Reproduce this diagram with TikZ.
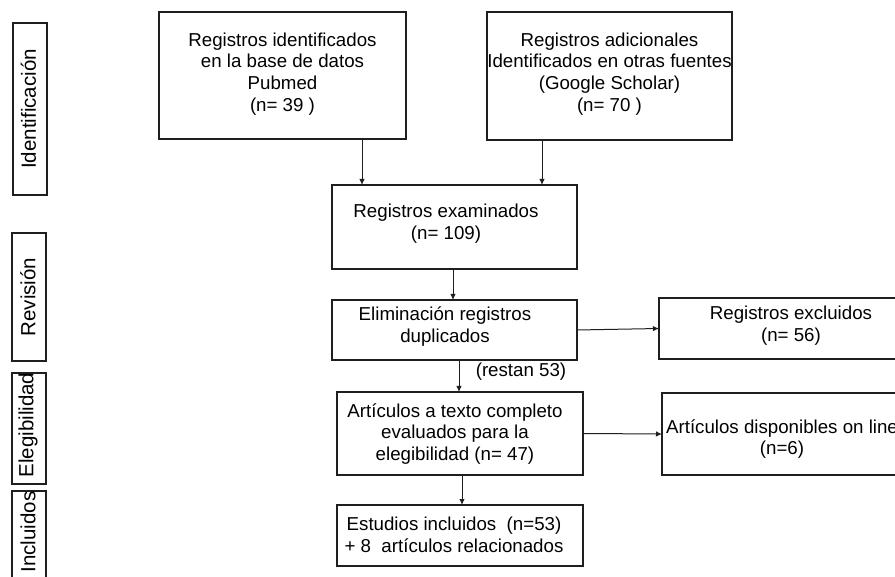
\documentclass[tikz,border=0pt]{standalone}
\usepackage{fontspec}
\setmainfont{Liberation Sans}
\usetikzlibrary{arrows.meta}
\begin{document}
\begin{tikzpicture}[x=1pt,y=-1pt,
  box/.style={draw=black!88, line width=1.1pt, inner sep=0pt, outer sep=0pt},
  txt/.style={align=center, font=\fontsize{18.7}{21.8}\selectfont, inner sep=0pt, text=black},
  lab/.style={rotate=90, font=\fontsize{20.5}{22}\selectfont, inner sep=0pt, text=black},
  arr/.style={-{Latex[length=6pt,width=5.5pt]}, line width=1pt, draw=black!88}]
\useasboundingbox (0,0) rectangle (895,577);
\clip (0,0) rectangle (895,577);
\fill[white] (0,0) rectangle (895,577);

% stage label boxes
\node[box, minimum width=34pt, minimum height=172pt] (l1) at (30,109) {};
\node[box, minimum width=34pt, minimum height=128pt] (l2) at (29,297) {};
\node[box, minimum width=34pt, minimum height=111pt] (l3) at (29,428.5) {};
\node[box, minimum width=34pt, minimum height=109pt] (l4) at (29,545.5) {};
\node[lab] (tl1) at (28.5,109) {Identificación};
\node[lab] (tl2) at (28,297) {Revisión};
\node[lab] (tl3) at (28,425) {Elegibilidad};
\node[lab] (tl4) at (28,532) {Incluidos};

% flow boxes
\node[box, minimum width=247pt, minimum height=127pt] (b1) at (282.5,75.5) {};
\node[box, minimum width=245pt, minimum height=128pt] (b2) at (609.5,76) {};
\node[box, minimum width=245pt, minimum height=84pt] (b3) at (454.5,227) {};
\node[box, minimum width=245pt, minimum height=60pt] (b4) at (454.5,330) {};
\node[box, minimum width=264pt, minimum height=61pt] (b5) at (791,328.5) {};
\node[box, minimum width=246pt, minimum height=83pt] (b6) at (460,433.5) {};
\node[box, minimum width=250pt, minimum height=82pt] (b7) at (787,434) {};
\node[box, minimum width=246pt, minimum height=61pt] (b8) at (460,535.5) {};

% texts
\node[txt] (t1) at (282.5,74) {Registros identificados\\en la base de datos\\Pubmed\\(n= 39 )};
\node[txt] (t2) at (609.5,74) {Registros adicionales\\Identificados en otras fuentes\\(Google Scholar)\\(n= 70 )};
\node[txt] (t3) at (446,224) {Registros examinados\\(n= 109)};
\node[txt] (t4) at (445,326.5) {Eliminación registros\\duplicados};
\node[txt] (t5) at (791,326) {Registros excluidos\\(n= 56)};
\node[txt] (t6) at (455,434) {Artículos a texto completo\\evaluados para la\\elegibilidad (n= 47)};
\node[txt] (t7) at (782,439) {Artículos disponibles on line\\(n=6)};
\node[txt] (t8) at (454,534.5) {Estudios incluidos\ \ (n=53)\\+ 8\ \ artículos relacionados};
\node[txt] (t9) at (521,372) {(restan 53)};

% connector columns
\coordinate (a1) at (362,0);
\coordinate (a2) at (542,0);
\coordinate (a3) at (453,0);
\coordinate (a4) at (459,0);
\coordinate (a5) at (462,0);

\draw[arr] (b1.south -| a1) -- (b3.north -| a1);
\draw[arr] (b2.south -| a2) -- (b3.north -| a2);
\draw[arr] (b3.south -| a3) -- (b4.north -| a3);
\draw[arr] (b4.east) -- (b5.west);
\draw[arr] (b4.south -| a4) -- (b6.north -| a4);
\draw[arr] (b6.east) -- (b7.west);
\draw[arr] (b6.south -| a5) -- (b8.north -| a5);
\end{tikzpicture}
\end{document}
